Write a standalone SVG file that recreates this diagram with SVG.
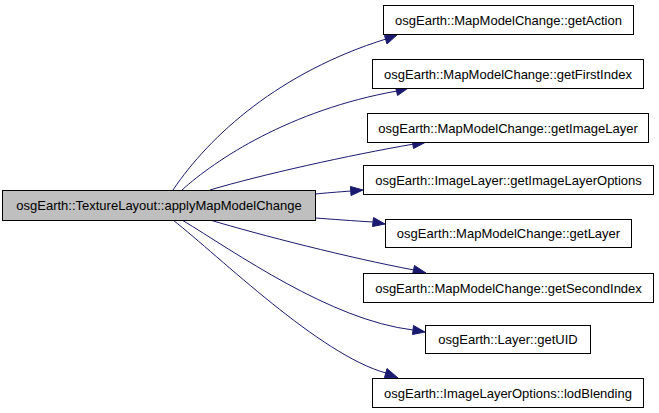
<svg xmlns="http://www.w3.org/2000/svg" width="659" height="413" viewBox="0 0 659 413">
<style>
.node rect{fill:#ffffff;stroke:#000000;stroke-width:1}
.node.main rect{fill:#bfbfbf}
.node text{font-family:"Liberation Sans",Arial,sans-serif;font-size:13px;fill:#000000;text-anchor:middle}
.edge path{fill:none;stroke:#191970;stroke-width:1}
.edge polygon{fill:#191970;stroke:#191970;stroke-width:1}
</style>
<rect width="659" height="413" fill="#ffffff"/>
<g id="connectors" class="edge">
<path d="M173,190 C210,135 280,72 386,39"/>
<polygon points="384.5,35.5 398,34 387,44"/>
<path d="M182,190 C215,160 290,110 397,91"/>
<polygon points="395.5,86.5 409,87.5 397.5,95.5"/>
<path d="M210,190 C260,175 350,155 414,144"/>
<polygon points="412,139.5 426,142 413.5,148.5"/>
<path d="M315,194 C325,193 338,192 351,191"/>
<polygon points="350.5,186.5 363,190 351,195.5"/>
<path d="M315,218 C330,219 355,221 373,222"/>
<polygon points="373.5,217.5 385,224 372.5,226.5"/>
<path d="M210,220 C260,235 350,258 414,270"/>
<polygon points="414.5,265.5 426,273 412.5,274.5"/>
<path d="M182,220 C235,252 330,320 413,330"/>
<polygon points="413.5,325.5 425,332 412.5,334.5"/>
<path d="M173,220 C220,257 320,355 386,373"/>
<polygon points="387,368.5 398,378 384.5,377.5"/>
</g>
<g id="node-main" class="node main">
<rect x="2.5" y="190.5" width="313" height="30"/>
<text x="159" y="210">osgEarth::TextureLayout::applyMapModelChange</text>
</g>
<g id="node-getAction" class="node">
<rect x="383.5" y="5.5" width="250" height="29"/>
<text x="508.5" y="24.5">osgEarth::MapModelChange::getAction</text>
</g>
<g id="node-getFirstIndex" class="node">
<rect x="372.5" y="59.5" width="271" height="29"/>
<text x="508" y="78.5">osgEarth::MapModelChange::getFirstIndex</text>
</g>
<g id="node-getImageLayer" class="node">
<rect x="367.5" y="113.5" width="281" height="29"/>
<text x="508" y="132.5">osgEarth::MapModelChange::getImageLayer</text>
</g>
<g id="node-getImageLayerOptions" class="node">
<rect x="363.5" y="165.5" width="290" height="29"/>
<text x="508.5" y="184.5">osgEarth::ImageLayer::getImageLayerOptions</text>
</g>
<g id="node-getLayer" class="node">
<rect x="385.5" y="219.5" width="246" height="28"/>
<text x="508.5" y="238">osgEarth::MapModelChange::getLayer</text>
</g>
<g id="node-getSecondIndex" class="node">
<rect x="363.5" y="273.5" width="290" height="29"/>
<text x="508.5" y="292.5">osgEarth::MapModelChange::getSecondIndex</text>
</g>
<g id="node-getUID" class="node">
<rect x="425.5" y="325.5" width="165" height="28"/>
<text x="508" y="344">osgEarth::Layer::getUID</text>
</g>
<g id="node-lodBlending" class="node">
<rect x="372.5" y="378.5" width="271" height="29"/>
<text x="508" y="397.5">osgEarth::ImageLayerOptions::lodBlending</text>
</g>
</svg>
